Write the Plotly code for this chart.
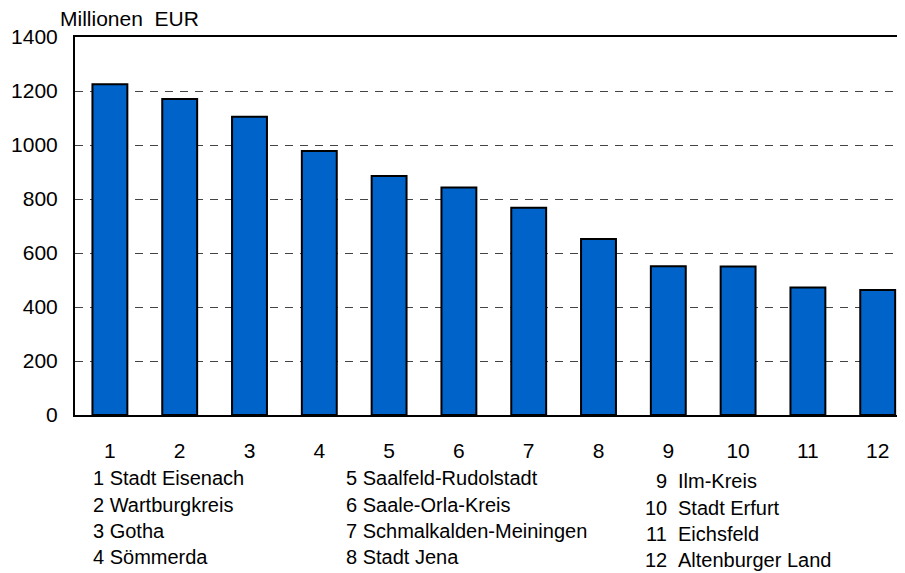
import plotly.graph_objects as go

categories = [str(i) for i in range(1, 13)]
values = [1225, 1170, 1105, 978, 885, 843, 768, 652, 551, 550, 472, 463]
names = ["Stadt Eisenach", "Wartburgkreis", "Gotha", "Sömmerda",
         "Saalfeld-Rudolstadt", "Saale-Orla-Kreis", "Schmalkalden-Meiningen", "Stadt Jena",
         "Ilm-Kreis", "Stadt Erfurt", "Eichsfeld", "Altenburger Land"]
y_ticks = [0, 200, 400, 600, 800, 1000, 1200, 1400]
unit_label = "Millionen  EUR"

FONT = "Liberation Sans, Arial, sans-serif"
# page has an 8px body margin; figure is sized to fill the rest of the window
W, H = 897, 565

fig = go.Figure()
fig.add_trace(go.Bar(
    x=list(range(1, 13)), y=values, width=0.5,
    marker=dict(color="#0063C9", line=dict(color="#000000", width=2)),
    hoverinfo="skip",
))

fig.update_layout(
    width=W, height=H,
    margin=dict(l=67, r=0, t=29, b=158),
    paper_bgcolor="white", plot_bgcolor="white",
    showlegend=False,
    font=dict(family=FONT, size=21, color="#000000"),
)
fig.update_xaxes(
    range=[0.5, 0.5 + 830 / 69.8],
    tickmode="array", tickvals=list(range(1, 13)), ticktext=categories,
    showgrid=False, zeroline=False,
    showline=True, linecolor="#000000", linewidth=2, mirror=True,
    ticks="", ticklabelstandoff=16,
    tickfont=dict(size=21, family=FONT),
)
fig.update_yaxes(
    range=[0, 1400],
    tickmode="array", tickvals=y_ticks,
    showgrid=True, gridcolor="#444444", gridwidth=1, griddash="8px,7px",
    zeroline=False,
    showline=True, linecolor="#000000", linewidth=2,
    ticks="", ticklabelstandoff=11,
    tickfont=dict(size=21, family=FONT),
)

annotations = [dict(
    text=unit_label, x=58, y=18,
    xanchor="left", yanchor="middle",
    font=dict(size=21, family=FONT),
)]

# the label list below the chart (positions in window pixels)
col_x = [91, 344]
row_y = [478, 505, 531, 557]
for i, name in enumerate(names):
    col, row = divmod(i, 4)
    if col < 2:
        annotations.append(dict(text=f"{i+1} {name}", x=col_x[col], y=row_y[row],
                                xanchor="left", yanchor="middle"))
    else:
        yy = row_y[row] + 3
        annotations.append(dict(text=f"{i+1}", x=669, y=yy, xanchor="right", yanchor="middle"))
        annotations.append(dict(text=name, x=676, y=yy, xanchor="left", yanchor="middle"))

for a in annotations:
    a["xref"] = "paper"
    a["yref"] = "paper"
    a["x"] = (a["x"] - 75) / 830
    a["y"] = 1 - (a["y"] - 37) / 378
    a["showarrow"] = False
    a.setdefault("font", dict(size=20, family=FONT))

fig.update_layout(annotations=annotations)
fig.write_html("out.html")
